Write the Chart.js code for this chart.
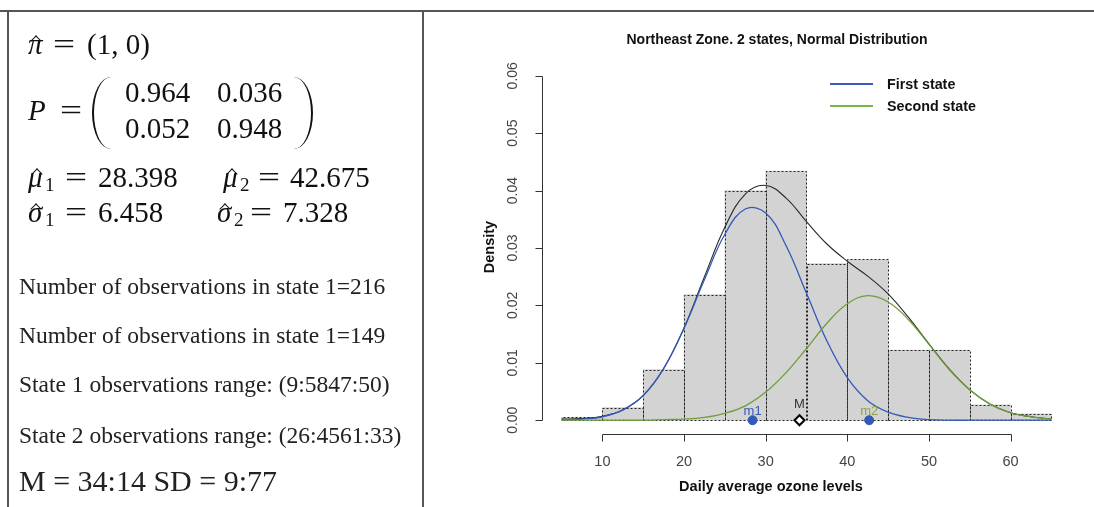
<!DOCTYPE html>
<html>
<head>
<meta charset="utf-8">
<script src="https://cdn.jsdelivr.net/npm/chart.js@4.4.0/dist/chart.umd.min.js"></script>
<style>
  html, body { margin: 0; padding: 0; background: #fff; }
  body { width: 1094px; height: 507px; position: relative; overflow: hidden; }
  #chart { position: absolute; left: 0; top: 0; }
  .rule { position: absolute; background: #555; }
  .t { position: absolute; white-space: nowrap; color: #111; line-height: 1; }
  .m { font-family: "Liberation Serif", "DejaVu Serif", serif; font-size: 29px; }
  .eq { transform: scaleX(1.35); transform-origin: left center; }
  .s { font-family: "Liberation Serif", serif; font-size: 19px; }
  .it { font-style: italic; }
  .hat { position: absolute; width: 7px; height: 7px; border-left: 1.3px solid #111; border-top: 1.3px solid #111; transform: rotate(45deg); }
  .txt { font-family: "Liberation Serif", serif; font-size: 23.5px; color: #222; }
  .paren { position: absolute; width: 17px; height: 72px; border: 0 solid #111; }
  .pl { border-left-width: 2.4px; border-radius: 100% 0 0 100% / 50% 0 0 50%; }
  .pr { border-right-width: 2.4px; border-radius: 0 100% 100% 0 / 0 50% 50% 0; }
</style>
</head>
<body>
<canvas id="chart" width="1094" height="507"></canvas>

<!-- frame lines -->
<div class="rule" style="left:0;top:10px;width:1094px;height:2px;"></div>
<div class="rule" style="left:7px;top:10px;width:2px;height:497px;"></div>
<div class="rule" style="left:422px;top:10px;width:2px;height:497px;"></div>

<!-- initial distribution -->
<div class="t m it" style="left:28px;top:30px;">π</div>
<div class="hat" style="left:32px;top:37px;"></div>
<div class="t m eq" style="left:53px;top:30px;">=</div>
<div class="t m" style="left:87px;top:30px;">(1, 0)</div>

<!-- transition matrix -->
<div class="t m it" style="left:28px;top:96px;">P</div>
<div class="t m eq" style="left:60px;top:96px;">=</div>
<div class="paren pl" style="left:92px;top:77px;"></div>
<div class="t m" style="left:125px;top:78px;">0.964</div>
<div class="t m" style="left:217px;top:78px;">0.036</div>
<div class="t m" style="left:125px;top:114px;">0.052</div>
<div class="t m" style="left:217px;top:114px;">0.948</div>
<div class="paren pr" style="left:294px;top:77px;"></div>

<!-- state means -->
<div class="t m it" style="left:28px;top:163px;">μ</div>
<div class="hat" style="left:33px;top:170px;"></div>
<div class="t s" style="left:45px;top:175px;">1</div>
<div class="t m eq" style="left:65px;top:163px;">=</div>
<div class="t m" style="left:98px;top:163px;">28.398</div>
<div class="t m it" style="left:223px;top:163px;">μ</div>
<div class="hat" style="left:228px;top:170px;"></div>
<div class="t s" style="left:240px;top:175px;">2</div>
<div class="t m eq" style="left:258px;top:163px;">=</div>
<div class="t m" style="left:290px;top:163px;">42.675</div>

<!-- state standard deviations -->
<div class="t m it" style="left:28px;top:198px;">σ</div>
<div class="hat" style="left:32px;top:205px;"></div>
<div class="t s" style="left:45px;top:210px;">1</div>
<div class="t m eq" style="left:65px;top:198px;">=</div>
<div class="t m" style="left:98px;top:198px;">6.458</div>
<div class="t m it" style="left:217px;top:198px;">σ</div>
<div class="hat" style="left:221px;top:205px;"></div>
<div class="t s" style="left:234px;top:210px;">2</div>
<div class="t m eq" style="left:250px;top:198px;">=</div>
<div class="t m" style="left:283px;top:198px;">7.328</div>

<div class="t txt" style="left:19px;top:275px;">Number of observations in state 1=216</div>
<div class="t txt" style="left:19px;top:324px;">Number of observations in state 1=149</div>
<div class="t txt" style="left:19px;top:373px;">State 1 observations range: (9:5847:50)</div>
<div class="t txt" style="left:19px;top:424px;">State 2 observations range: (26:4561:33)</div>
<div class="t txt" style="left:19px;top:466px;font-size:30px;">M = 34:14 SD = 9:77</div>

<script>
// histogram bins (left edge) and their densities
const binLeft = [5, 10, 15, 20, 25, 30, 35, 40, 45, 50, 55, 60];
const binWidth = 5;
const binDensity = [0.0005, 0.0022, 0.0088, 0.0219, 0.0400, 0.0434, 0.0273, 0.0280, 0.0122, 0.0122, 0.0027, 0.0011];

// fitted curves
const curveX = [5, 7.5, 10, 12.5, 15, 17.5, 20, 22.5, 25, 27.5, 30, 32.5, 35, 37.5, 40, 42.5, 45, 47.5, 50, 52.5, 55, 57.5, 60, 62.5, 65];
const mixDensity = [0.0002, 0.0003, 0.0007, 0.0018, 0.0043, 0.0090, 0.0161, 0.0250, 0.0336, 0.0394, 0.0409, 0.0387, 0.0346, 0.0307, 0.0277, 0.0251, 0.0220, 0.0179, 0.0133, 0.0089, 0.0053, 0.0028, 0.0013, 0.0006, 0.0002];
const firstState = [0.0000, 0.0002, 0.0006, 0.0018, 0.0043, 0.0090, 0.0160, 0.0245, 0.0324, 0.0368, 0.0361, 0.0304, 0.0221, 0.0138, 0.0074, 0.0034, 0.0014, 0.0005, 0.0001, 0.0000, 0.0000, 0.0000, 0.0000, 0.0000, 0.0000];
const secondState = [0.0000, 0.0000, 0.0000, 0.0000, 0.0000, 0.0001, 0.0002, 0.0005, 0.0012, 0.0025, 0.0049, 0.0083, 0.0125, 0.0169, 0.0203, 0.0217, 0.0206, 0.0175, 0.0132, 0.0088, 0.0053, 0.0028, 0.0013, 0.0006, 0.0002];

// state means and overall mean
const markerX = [28.398, 34.14, 42.675];
const markerLabels = ['m1', 'M', 'm2'];

const xTicks = [10, 20, 30, 40, 50, 60];
const yTicks = [0, 0.01, 0.02, 0.03, 0.04, 0.05, 0.06];
const yTickLabels = ['0.00', '0.01', '0.02', '0.03', '0.04', '0.05', '0.06'];

const BLUE = '#3559b8';
const GREEN = '#6f9e3a';
const sans = '"Liberation Sans", Arial, sans-serif';

const pts = (xs, ys) => xs.map((x, i) => ({ x: x, y: ys[i] }));

// dotted outline around each histogram bar
const histBorders = {
  id: 'histBorders',
  afterDatasetDraw(chart, args) {
    if (args.meta.type !== 'bar') return;
    const ctx = chart.ctx;
    ctx.save();
    ctx.strokeStyle = '#222';
    ctx.lineWidth = 1;
    ctx.setLineDash([2, 2]);
    args.meta.data.forEach(el => {
      const left = Math.round(el.x - el.width / 2) + 0.5;
      const right = Math.round(el.x + el.width / 2) + 0.5;
      const top = Math.round(el.y) + 0.5;
      const base = Math.round(el.base) + 0.5;
      ctx.beginPath();
      ctx.moveTo(left, base);
      ctx.lineTo(left, top);
      ctx.lineTo(right, top);
      ctx.lineTo(right, base);
      ctx.lineTo(left, base);
      ctx.stroke();
    });
    ctx.restore();
  }
};

// R style axes, title, legend and mean labels
const rDecor = {
  id: 'rDecor',
  afterDraw(chart) {
    const ctx = chart.ctx;
    const xs = chart.scales.x, ys = chart.scales.y;
    const area = chart.chartArea;
    ctx.save();
    ctx.strokeStyle = '#333';
    ctx.lineWidth = 1;

    // y axis
    const ax = Math.round(area.left) + 0.5;
    ctx.beginPath();
    ctx.moveTo(ax, Math.round(ys.getPixelForValue(yTicks[0])) + 0.5);
    ctx.lineTo(ax, Math.round(ys.getPixelForValue(yTicks[yTicks.length - 1])) + 0.5);
    yTicks.forEach(v => {
      const py = Math.round(ys.getPixelForValue(v)) + 0.5;
      ctx.moveTo(ax, py);
      ctx.lineTo(ax - 7, py);
    });
    ctx.stroke();
    ctx.font = '14px ' + sans;
    ctx.fillStyle = '#444';
    ctx.textAlign = 'center';
    ctx.textBaseline = 'middle';
    yTicks.forEach((v, i) => {
      ctx.save();
      ctx.translate(513, ys.getPixelForValue(v));
      ctx.rotate(-Math.PI / 2);
      ctx.fillText(yTickLabels[i], 0, 0);
      ctx.restore();
    });

    // x axis
    const ay = Math.round(area.bottom) + 0.5;
    ctx.beginPath();
    ctx.moveTo(Math.round(xs.getPixelForValue(xTicks[0])) + 0.5, ay);
    ctx.lineTo(Math.round(xs.getPixelForValue(xTicks[xTicks.length - 1])) + 0.5, ay);
    xTicks.forEach(v => {
      const px = Math.round(xs.getPixelForValue(v)) + 0.5;
      ctx.moveTo(px, ay);
      ctx.lineTo(px, ay + 7);
    });
    ctx.stroke();
    ctx.font = '14.5px ' + sans;
    xTicks.forEach(v => ctx.fillText(String(v), xs.getPixelForValue(v), 462));

    // axis titles and main title
    ctx.fillStyle = '#111';
    ctx.font = 'bold 14.5px ' + sans;
    ctx.fillText('Daily average ozone levels', 771, 487);
    ctx.save();
    ctx.translate(490, 247);
    ctx.rotate(-Math.PI / 2);
    ctx.fillText('Density', 0, 0);
    ctx.restore();
    ctx.font = 'bold 14px ' + sans;
    ctx.fillText('Northeast Zone. 2 states, Normal Distribution', 777, 40);

    // legend
    ctx.lineWidth = 2;
    [['First state', '#3a5cb8', 84], ['Second state', '#7ab648', 106]].forEach(([label, col, y]) => {
      ctx.strokeStyle = col;
      ctx.beginPath();
      ctx.moveTo(830, y);
      ctx.lineTo(873, y);
      ctx.stroke();
      ctx.fillStyle = '#111';
      ctx.textAlign = 'left';
      ctx.font = 'bold 14.3px ' + sans;
      ctx.fillText(label, 887, y + 1);
    });

    // labels over the mean markers
    const meta = chart.getDatasetMeta(4);
    const labelCols = [BLUE, '#333', '#8aa83a'];
    const labelLift = [9, 16, 9];
    ctx.textAlign = 'center';
    ctx.font = '13px ' + sans;
    meta.data.forEach((el, i) => {
      ctx.fillStyle = labelCols[i];
      ctx.fillText(markerLabels[i], el.x, el.y - labelLift[i]);
    });
    ctx.restore();
  }
};

const ctx = document.getElementById('chart').getContext('2d');
new Chart(ctx, {
  type: 'bar',
  data: {
    datasets: [
      {
        type: 'bar',
        data: pts(binLeft.map(b => b + binWidth / 2), binDensity),
        backgroundColor: '#d3d3d3',
        borderWidth: 0,
        barPercentage: 1,
        categoryPercentage: 1,
        order: 10
      },
      {
        type: 'line',
        data: pts(curveX, mixDensity),
        borderColor: '#2a2a2a',
        borderWidth: 1.1,
        pointRadius: 0,
        tension: 0.4,
        order: 5
      },
      {
        type: 'line',
        data: pts(curveX, firstState),
        borderColor: BLUE,
        borderWidth: 1.3,
        pointRadius: 0,
        tension: 0.4,
        order: 4
      },
      {
        type: 'line',
        data: pts(curveX, secondState),
        borderColor: GREEN,
        borderWidth: 1.3,
        pointRadius: 0,
        tension: 0.4,
        order: 3
      },
      {
        type: 'scatter',
        data: markerX.map(x => ({ x: x, y: 0 })),
        pointStyle: ['circle', 'rectRot', 'circle'],
        pointRadius: [4.5, 5, 4.5],
        backgroundColor: [BLUE, '#fff', BLUE],
        borderColor: [BLUE, '#000', BLUE],
        borderWidth: [1, 2, 1],
        order: 0
      }
    ]
  },
  options: {
    responsive: false,
    animation: false,
    events: [],
    layout: { padding: { left: 542, right: 1094 - 1071, top: 62, bottom: 507 - 434 } },
    plugins: {
      legend: { display: false },
      tooltip: { enabled: false },
      title: { display: false }
    },
    scales: {
      x: { type: 'linear', min: 2.6, max: 67.4, offset: false, display: false },
      y: { type: 'linear', min: -0.0024, max: 0.0624, display: false }
    }
  },
  plugins: [histBorders, rDecor]
});
</script>
</body>
</html>
